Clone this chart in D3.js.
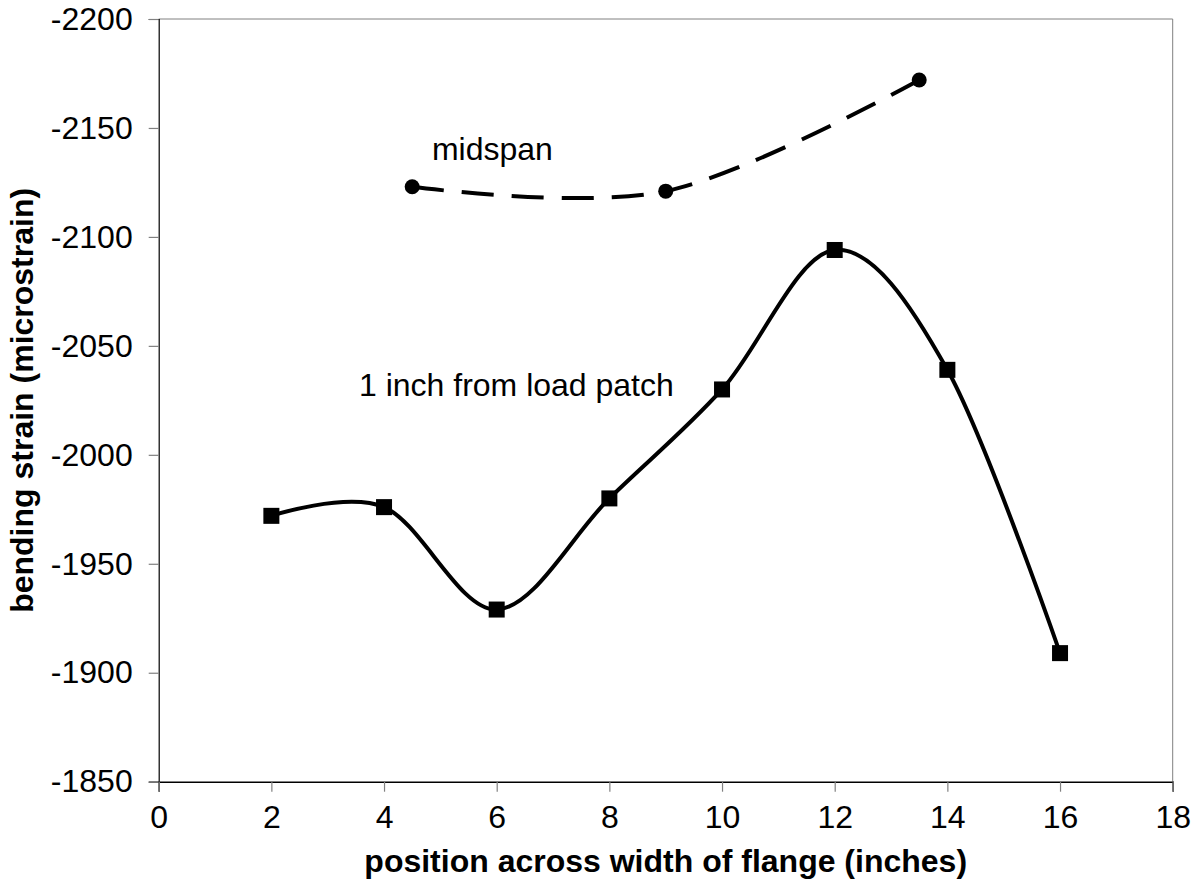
<!DOCTYPE html>
<html>
<head>
<meta charset="utf-8">
<script src="https://cdn.jsdelivr.net/npm/d3@7"></script>
<style>
  body { margin: 0; background: #fff; }
  text { font-family: "Liberation Sans", Arial, sans-serif; fill: #000; }
</style>
</head>
<body>
<div id="chart"></div>
<script>
// positions across flange (inches) and strains (microstrain)
var patchX = [2, 4, 6, 8, 10, 12, 14, 16];
var patchY = [-1972, -1976, -1929, -1980, -2030, -2094, -2039, -1909];
var midX = [4.5, 9, 13.5];
var midY = [-2123, -2121, -2172];
var xTicks = [0, 2, 4, 6, 8, 10, 12, 14, 16, 18];
var yTicks = [-2200, -2150, -2100, -2050, -2000, -1950, -1900, -1850];

(function() {
  var width = 1200, height = 879;
  var left = 158.7, right = 1172.7, top = 19, bottom = 781.7;

  var svg = d3.select("#chart").append("svg")
              .attr("width", width)
              .attr("height", height);

  var x = d3.scaleLinear().domain([0, 18]).range([left, right]);
  var y = d3.scaleLinear().domain([-1850, -2200]).range([bottom, top]);

  // plot frame: gray top & right, black axes
  svg.append("line").attr("x1", left).attr("x2", right).attr("y1", top).attr("y2", top)
     .attr("stroke", "#808080").attr("stroke-width", 1);
  svg.append("line").attr("x1", right).attr("x2", right).attr("y1", top).attr("y2", bottom)
     .attr("stroke", "#808080").attr("stroke-width", 1);

  var yAxis = svg.append("g").attr("transform", "translate(" + left + ",0)")
     .call(d3.axisLeft(y).tickValues(yTicks).tickSize(10).tickPadding(16).tickFormat(d3.format("d")));
  var xAxis = svg.append("g").attr("transform", "translate(0," + bottom + ")")
     .call(d3.axisBottom(x).tickValues(xTicks).tickSize(10).tickPadding(14).tickFormat(d3.format("d")));

  [yAxis, xAxis].forEach(function(g) {
    g.select(".domain").attr("stroke", "#000").attr("stroke-width", 1.5);
    g.selectAll(".tick line").attr("stroke", "#808080").attr("stroke-width", 1.2);
    g.selectAll(".tick text").attr("font-size", 32).attr("font-family", "Liberation Sans, Arial, sans-serif").attr("fill", "#000");
  });
  yAxis.select(".domain").attr("stroke-width", 1.2);
  // the minus sign in the original is a plain hyphen
  yAxis.selectAll(".tick text").text(function(d) { return String(d).replace("\u2212", "-"); });

  svg.append("text")
     .attr("x", (left + right) / 2).attr("y", 872)
     .attr("text-anchor", "middle").attr("font-size", 32).attr("font-weight", "bold")
     .text("position across width of flange (inches)");

  svg.append("text")
     .attr("transform", "translate(33," + (top + bottom) / 2 + ") rotate(-90)")
     .attr("text-anchor", "middle").attr("font-size", 32).attr("font-weight", "bold")
     .text("bending strain (microstrain)");

  var patch = patchX.map(function(d, i) { return [d, patchY[i]]; });
  var mid = midX.map(function(d, i) { return [d, midY[i]]; });

  var line = d3.line()
      .x(function(d) { return x(d[0]); })
      .y(function(d) { return y(d[1]); })
      .curve(d3.curveCardinal.tension(0));

  svg.append("path").datum(patch).attr("d", line)
     .attr("fill", "none").attr("stroke", "#000").attr("stroke-width", 4);

  svg.append("path").datum(mid).attr("d", line)
     .attr("fill", "none").attr("stroke", "#000").attr("stroke-width", 4)
     .attr("stroke-dasharray", "32,18");

  svg.selectAll(".sq").data(patch).enter().append("rect")
     .attr("class", "sq")
     .attr("x", function(d) { return x(d[0]) - 8; })
     .attr("y", function(d) { return y(d[1]) - 8; })
     .attr("width", 16).attr("height", 16)
     .attr("fill", "#000");

  svg.selectAll(".dot").data(mid).enter().append("circle")
     .attr("class", "dot")
     .attr("cx", function(d) { return x(d[0]); })
     .attr("cy", function(d) { return y(d[1]); })
     .attr("r", 7.5)
     .attr("fill", "#000");

  // series labels
  svg.append("text").attr("x", x(4.85)).attr("y", y(-2135.3))
     .attr("font-size", 32).text("midspan");
  svg.append("text").attr("x", x(3.555)).attr("y", y(-2027))
     .attr("font-size", 32).text("1 inch from load patch");
})();
</script>
</body>
</html>
